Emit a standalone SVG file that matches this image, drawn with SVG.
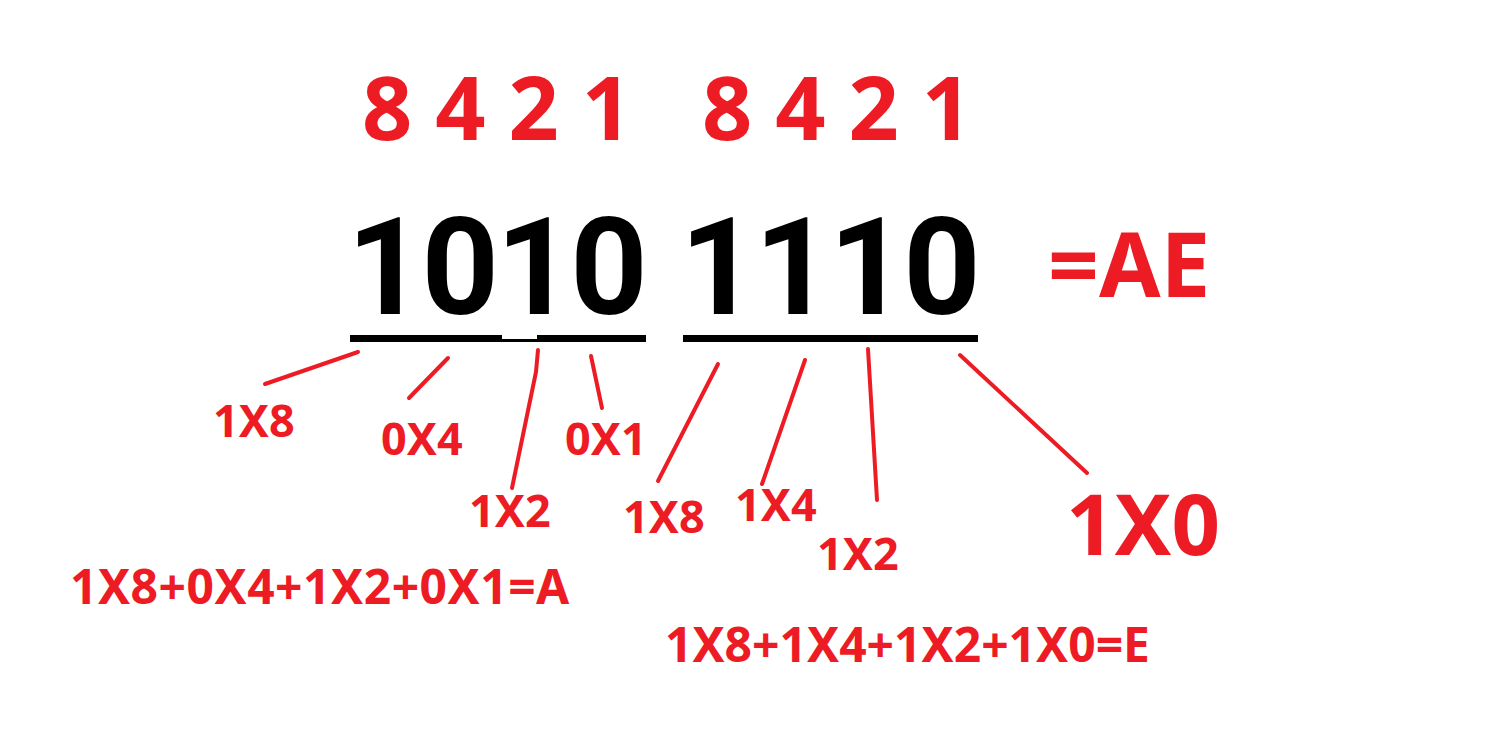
<svg xmlns="http://www.w3.org/2000/svg" width="1501" height="745" viewBox="0 0 1501 745">
<style>
.r{fill:#ED1C24;font-family:"Noto Sans","Open Sans",sans-serif;font-weight:bold}
.b{fill:#000;font-family:Roboto,"Liberation Sans",sans-serif;font-weight:bold;letter-spacing:-3px}
.c{stroke:#ED1C24;stroke-width:4;stroke-linecap:round;fill:none}
.lbl{font-size:45px}
.eq{font-size:48px}
</style>
<rect width="1501" height="745" fill="#fff"/>
<g id="weights">
<text class="r" x="362" y="140" font-size="88">8 4 2 1</text>
<text class="r" x="702" y="140" font-size="88">8 4 2 1</text>
</g>
<g id="binary">
<text class="b" x="347" y="314" font-size="135">1010</text>
<text class="b" x="680" y="314" font-size="135">1110</text>
<rect x="350" y="335" width="296" height="7" fill="#000"/>
<rect x="502" y="334" width="35" height="5" fill="#fff"/>
<rect x="683" y="335" width="295" height="7" fill="#000"/>
</g>
<g id="result">
<text class="r" x="1048" y="297" font-size="89">=AE</text>
</g>
<g id="connectors">
<line class="c" x1="358" y1="352" x2="265" y2="384"/>
<line class="c" x1="448" y1="358" x2="409" y2="398"/>
<polyline class="c" points="538,350 536,372 512,488"/>
<line class="c" x1="591" y1="356" x2="602" y2="408"/>
<line class="c" x1="718" y1="364" x2="658" y2="481"/>
<line class="c" x1="805" y1="360" x2="762" y2="484"/>
<line class="c" x1="868" y1="349" x2="877" y2="500"/>
<line class="c" x1="960" y1="355" x2="1087" y2="473"/>
</g>
<g id="labels">
<text class="r lbl" x="213" y="437">1X8</text>
<text class="r lbl" x="381" y="455">0X4</text>
<text class="r lbl" x="565" y="455">0X1</text>
<text class="r lbl" x="469" y="527">1X2</text>
<text class="r lbl" x="623" y="533">1X8</text>
<text class="r lbl" x="735" y="521">1X4</text>
<text class="r lbl" x="817" y="570">1X2</text>
<text class="r" x="1066" y="555" font-size="85">1X0</text>
</g>
<g id="equations">
<text class="r eq" x="70" y="604" letter-spacing="0.5">1X8+0X4+1X2+0X1=A</text>
<text class="r eq" x="665" y="662">1X8+1X4+1X2+1X0=E</text>
</g>
</svg>
